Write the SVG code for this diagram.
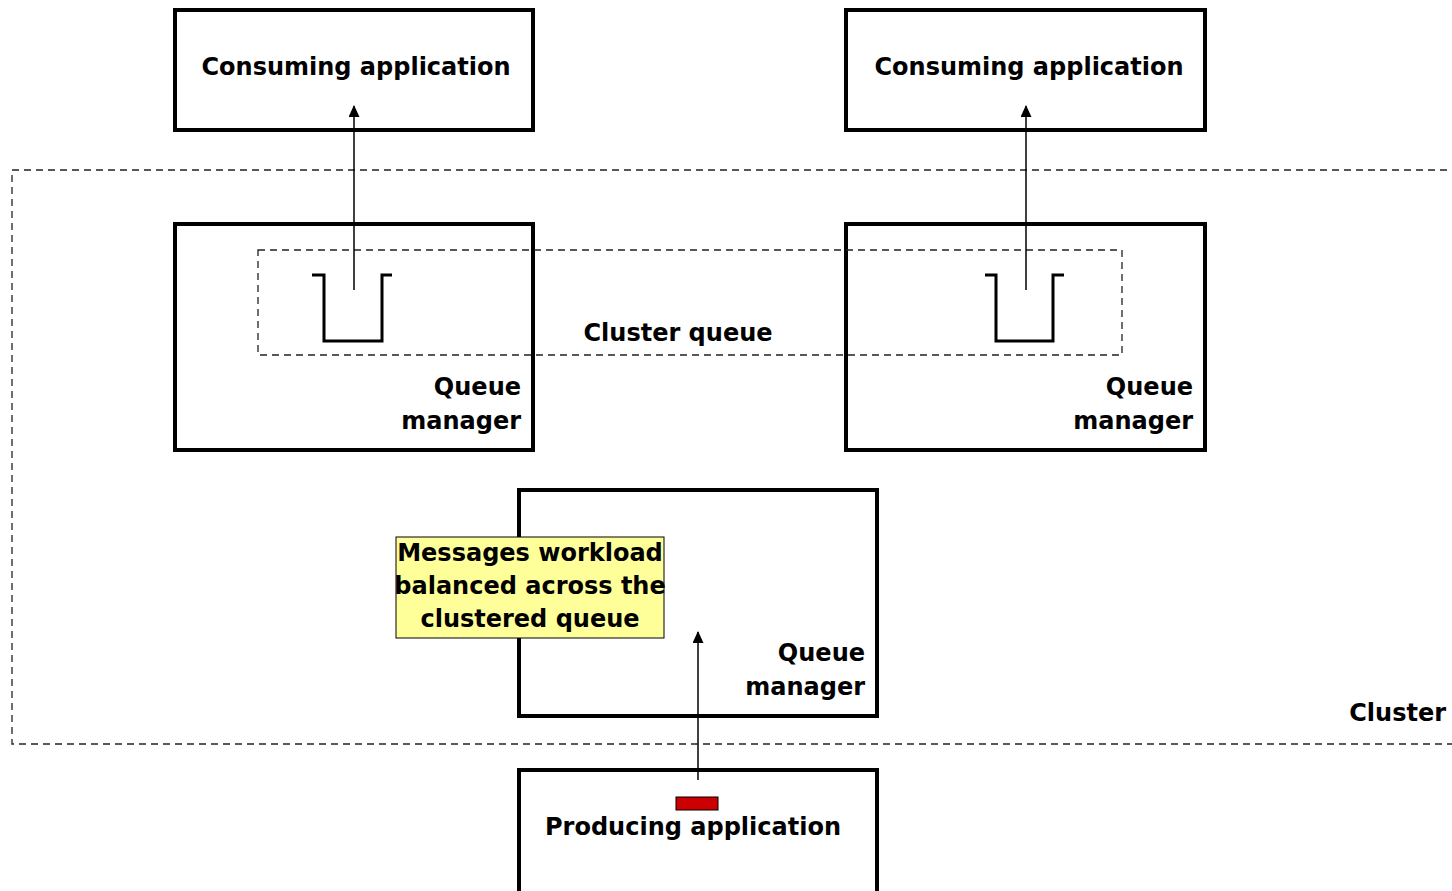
<svg xmlns="http://www.w3.org/2000/svg" width="1452" height="891" viewBox="0 0 1452 891">
  <style>
    .box { fill: #ffffff; stroke: #000000; stroke-width: 4; }
    .dash { fill: none; stroke: #222222; stroke-width: 1.3; stroke-dasharray: 7 5; }
    .queue { fill: none; stroke: #000000; stroke-width: 3; }
    .link { fill: none; stroke: #000000; stroke-width: 1.5; marker-end: url(#arrow); }
    .lbl { font-family: "DejaVu Sans", Verdana, sans-serif; font-weight: bold; font-size: 24px; fill: #000000; }
    .mid { text-anchor: middle; }
    .end { text-anchor: end; }
  </style>
  <defs>
    <marker id="arrow" markerWidth="12" markerHeight="12" refX="11" refY="5.5" orient="auto" markerUnits="userSpaceOnUse">
      <path d="M0,0 L12,5.5 L0,11 z" fill="#000000"/>
    </marker>
  </defs>

  <rect width="1452" height="891" fill="#ffffff"/>

  <!-- cluster boundary -->
  <g id="cluster">
    <rect class="dash" x="12" y="170" width="1460" height="574"/>
    <text class="lbl end" x="1446" y="721">Cluster</text>
  </g>

  <g id="consumer-left">
    <rect class="box" x="175" y="10" width="358" height="120"/>
    <text class="lbl mid" x="356" y="75">Consuming application</text>
  </g>

  <g id="consumer-right">
    <rect class="box" x="846" y="10" width="359" height="120"/>
    <text class="lbl mid" x="1029" y="75">Consuming application</text>
  </g>

  <g id="qm-left">
    <rect class="box" x="175" y="224" width="358" height="226"/>
    <text class="lbl end" x="521" y="395">Queue</text>
    <text class="lbl end" x="521" y="429">manager</text>
  </g>

  <g id="qm-right">
    <rect class="box" x="846" y="224" width="359" height="226"/>
    <text class="lbl end" x="1193" y="395">Queue</text>
    <text class="lbl end" x="1193" y="429">manager</text>
  </g>

  <!-- clustered queue spanning both queue managers -->
  <g id="cluster-queue">
    <rect class="dash" x="258" y="250" width="864" height="105"/>
    <text class="lbl mid" x="678" y="341">Cluster queue</text>
    <path class="queue" d="M312,275 H324 V341 H382 V275 H392"/>
    <path class="queue" d="M985,275 H996 V341 H1053 V275 H1064"/>
  </g>

  <g id="qm-bottom">
    <rect class="box" x="519" y="490" width="358" height="226"/>
    <text class="lbl end" x="865" y="661">Queue</text>
    <text class="lbl end" x="865" y="695">manager</text>
  </g>

  <g id="producer">
    <rect class="box" x="519" y="770" width="358" height="125"/>
    <rect x="676" y="797" width="42" height="13" fill="#cc0000" stroke="#000000" stroke-width="1"/>
    <text class="lbl mid" x="693" y="835">Producing application</text>
  </g>

  <g id="note">
    <rect x="396" y="537" width="268" height="101" fill="#ffff99" stroke="#000000" stroke-width="1"/>
    <text class="lbl mid" x="530" y="561">Messages workload</text>
    <text class="lbl mid" x="530" y="594">balanced across the</text>
    <text class="lbl mid" x="530" y="627">clustered queue</text>
  </g>

  <g id="connectors">
    <path class="link" d="M354,290 V106"/>
    <path class="link" d="M1026,290 V106"/>
    <path class="link" d="M698,780 V632"/>
  </g>
</svg>
